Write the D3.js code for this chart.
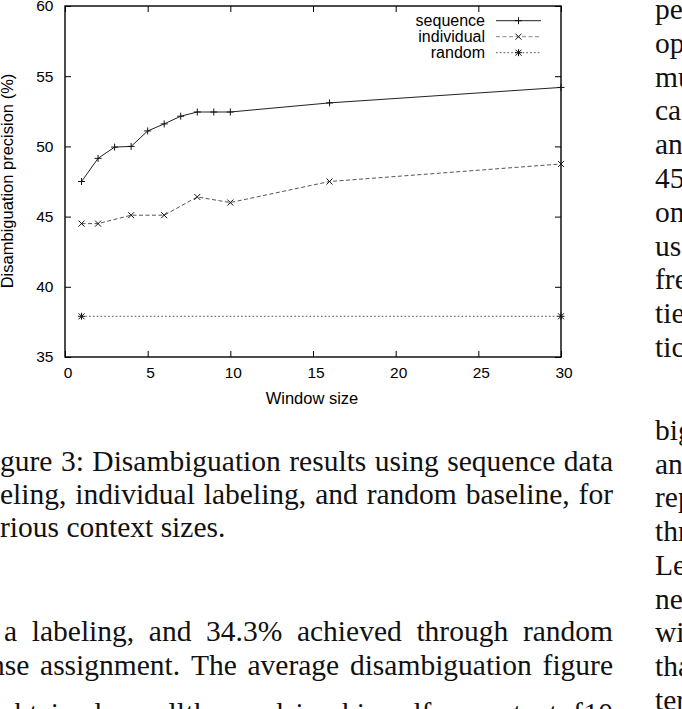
<!DOCTYPE html>
<html>
<head>
<meta charset="utf-8">
<script src="https://cdn.jsdelivr.net/npm/d3@7"></script>
<style>
  body { margin: 0; background: #fff; }
  svg { display: block; }
</style>
</head>
<body>
<div id="page"></div>
<script>
// chart values
const seqSizes = [1, 2, 3, 4, 5, 6, 7, 8, 9, 10, 16, 30];
const seqPrecision = [47.5, 49.15, 49.95, 50.0, 51.1, 51.6, 52.15, 52.45, 52.45, 52.45, 53.1, 54.2];
const indSizes = [1, 2, 4, 6, 8, 10, 16, 30];
const indPrecision = [44.5, 44.5, 45.1, 45.1, 46.4, 46.0, 47.5, 48.75];
const rndSizes = [1, 30];
const rndPrecision = [37.9, 37.9];
const xTicks = [0, 5, 10, 15, 20, 25, 30];
const yTicks = [35, 40, 45, 50, 55, 60];
const seriesNames = ["sequence", "individual", "random"];

// page text around the figure
const captionLines = [
  "gure 3: Disambiguation results using sequence data",
  "eling, individual labeling, and random baseline, for",
  "rious context sizes."
];
const paragraphLines = [
  "a labeling, and 34.3% achieved through random",
  "nse assignment. The average disambiguation figure",
  "obtained over all the words is achieved for a context of 10"
];
const rightTop = ["pe", "op", "mu", "ca", "an", "45", "on", "us", "fre", "tie", "tic"];
const rightBottom = ["big", "an", "rep", "thr", "Le", "ne", "wi", "tha", "ter"];

const W = 682, H = 709;
const plot = {left: 65, right: 561, top: 6, bottom: 357};

const svg = d3.select("#page").append("svg")
    .attr("width", W)
    .attr("height", H);

const x = d3.scaleLinear().domain([0, 30]).range([plot.left, plot.right]);
const y = d3.scaleLinear().domain([35, 60]).range([plot.bottom, plot.top]);

const sans = "'Liberation Sans', Arial, Helvetica, sans-serif";
const serif = "'Liberation Serif', 'Times New Roman', Times, serif";

// axes with inward ticks on all four sides
const axisG = svg.append("g").attr("font-family", sans);

const xAxisBottom = axisG.append("g")
    .attr("transform", `translate(0,${plot.bottom})`)
    .call(d3.axisBottom(x).tickValues(xTicks).tickSizeInner(-6).tickSizeOuter(0).tickPadding(10));
const xAxisTop = axisG.append("g")
    .attr("transform", `translate(0,${plot.top})`)
    .call(d3.axisTop(x).tickValues(xTicks).tickSizeInner(-6).tickSizeOuter(0).tickFormat(""));
const yAxisLeft = axisG.append("g")
    .attr("transform", `translate(${plot.left},0)`)
    .call(d3.axisLeft(y).tickValues(yTicks).tickSizeInner(-6).tickSizeOuter(0).tickPadding(11.5));
const yAxisRight = axisG.append("g")
    .attr("transform", `translate(${plot.right},0)`)
    .call(d3.axisRight(y).tickValues(yTicks).tickSizeInner(-6).tickSizeOuter(0).tickFormat(""));

[xAxisBottom, xAxisTop, yAxisLeft, yAxisRight].forEach(a => {
  a.select(".domain").remove();
  a.selectAll(".tick line").attr("stroke", "#000").attr("stroke-width", 1);
  a.selectAll(".tick text")
      .attr("font-family", sans)
      .attr("font-size", 15.5)
      .attr("fill", "#000");
});
xAxisBottom.selectAll(".tick text").attr("dx", 2.5);

// frame
svg.append("rect")
    .attr("x", plot.left)
    .attr("y", plot.top)
    .attr("width", plot.right - plot.left)
    .attr("height", plot.bottom - plot.top)
    .attr("fill", "none")
    .attr("stroke", "#000")
    .attr("stroke-width", 1.4);

// axis titles
svg.append("text")
    .attr("x", 312)
    .attr("y", 404)
    .attr("text-anchor", "middle")
    .attr("font-family", sans)
    .attr("font-size", 16.5)
    .text("Window size");

svg.append("text")
    .attr("transform", "translate(12.5,181) rotate(-90)")
    .attr("text-anchor", "middle")
    .attr("font-family", sans)
    .attr("font-size", 16.5)
    .text("Disambiguation precision (%)");

// series
const styles = {
  sequence: {color: "#222", dash: null, marker: "plus"},
  individual: {color: "#555", dash: "4,2.5", marker: "cross"},
  random: {color: "#555", dash: "1.6,2.2", marker: "star"}
};

const series = [
  {name: "sequence", pts: seqSizes.map((s, i) => [s, seqPrecision[i]])},
  {name: "individual", pts: indSizes.map((s, i) => [s, indPrecision[i]])},
  {name: "random", pts: rndSizes.map((s, i) => [s, rndPrecision[i]])}
];

const line = d3.line().x(d => x(d[0])).y(d => y(d[1]));

function marker(g, type, cx, cy, color) {
  const r = 3.5, q = 3;
  const segs = [];
  if (type === "plus" || type === "star") {
    segs.push([cx - r, cy, cx + r, cy], [cx, cy - r, cx, cy + r]);
  }
  if (type === "cross" || type === "star") {
    segs.push([cx - q, cy - q, cx + q, cy + q], [cx - q, cy + q, cx + q, cy - q]);
  }
  segs.forEach(s => g.append("line")
      .attr("x1", s[0]).attr("y1", s[1]).attr("x2", s[2]).attr("y2", s[3])
      .attr("stroke", color).attr("stroke-width", 1));
}

series.forEach(s => {
  const st = styles[s.name];
  const g = svg.append("g");
  g.append("path")
      .datum(s.pts)
      .attr("d", line)
      .attr("fill", "none")
      .attr("stroke", st.color)
      .attr("stroke-width", 1)
      .attr("stroke-dasharray", st.dash);
  s.pts.forEach(p => marker(g, st.marker, x(p[0]), y(p[1]), "#111"));
});

// legend
const legend = svg.append("g").attr("font-family", sans).attr("font-size", 16);
seriesNames.forEach((name, i) => {
  const st = styles[name];
  const by = 25.7 + i * 16;
  legend.append("text")
      .attr("x", 485)
      .attr("y", by)
      .attr("text-anchor", "end")
      .text(name);
  legend.append("line")
      .attr("x1", 496).attr("x2", 541)
      .attr("y1", by - 5).attr("y2", by - 5)
      .attr("stroke", name === "individual" ? "#888" : st.color)
      .attr("stroke-width", 1)
      .attr("stroke-dasharray", st.dash);
  marker(legend, st.marker, 518.5, by - 5, "#111");
});

// surrounding paper text, justified word by word
const textG = svg.append("g").attr("font-family", serif).attr("font-size", 29.5).attr("fill", "#111");

function textLine(str, x0, yb, x1) {
  const t = textG.append("text").attr("y", yb);
  const words = str.split(" ");
  const spans = words.map(w => t.append("tspan").text(w));
  const widths = spans.map(s => s.node().getComputedTextLength());
  const gap = (x1 != null && words.length > 1)
      ? (x1 - x0 - d3.sum(widths)) / (words.length - 1)
      : 7.4;
  let cx = x0;
  spans.forEach((s, i) => { s.attr("x", cx); cx += widths[i] + gap; });
}

textLine(captionLines[0], 0, 471, 613);
textLine(captionLines[1], 0, 504, 613);
textLine(captionLines[2], 0, 537, null);

textLine(paragraphLines[0], 4, 641, 613);
textLine(paragraphLines[1], -10, 675, 613);
textLine(paragraphLines[2], 0, 723, 613);

rightTop.forEach((w, i) => textLine(w, 655, 19 + i * 33.8, null));
rightBottom.forEach((w, i) => textLine(w, 655, 440 + i * 33.7, null));
</script>
</body>
</html>
